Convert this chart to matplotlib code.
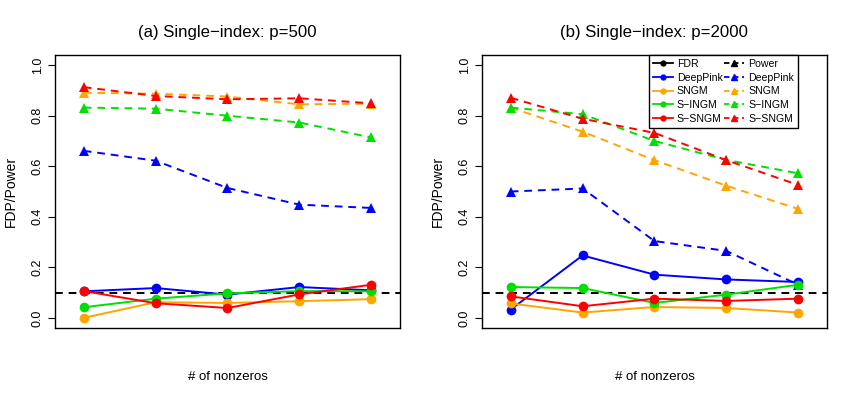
import matplotlib
matplotlib.use("Agg")
import matplotlib.pyplot as plt
from matplotlib.lines import Line2D

plt.rcParams['font.family'] = ['Liberation Sans', 'DejaVu Sans']

x = [1, 2, 3, 4, 5]
methods = ["DeepPink", "SNGM", "S−INGM", "S−SNGM"]
colors = ["#0000FF", "#FFA500", "#00E000", "#FF0000"]

# Panel (a) p=500
fdr_a = {
    "DeepPink": [0.105, 0.118, 0.092, 0.122, 0.109],
    "SNGM":     [0.000, 0.062, 0.059, 0.066, 0.074],
    "S−INGM":   [0.042, 0.076, 0.097, 0.106, 0.105],
    "S−SNGM":   [0.106, 0.058, 0.039, 0.093, 0.131],
}
power_a = {
    "DeepPink": [0.661, 0.622, 0.514, 0.448, 0.435],
    "SNGM":     [0.891, 0.887, 0.876, 0.845, 0.848],
    "S−INGM":   [0.832, 0.828, 0.800, 0.773, 0.714],
    "S−SNGM":   [0.913, 0.878, 0.865, 0.869, 0.849],
}
# Panel (b) p=2000
fdr_b = {
    "DeepPink": [0.033, 0.247, 0.171, 0.152, 0.142],
    "SNGM":     [0.057, 0.021, 0.043, 0.039, 0.021],
    "S−INGM":   [0.122, 0.118, 0.059, 0.092, 0.131],
    "S−SNGM":   [0.085, 0.046, 0.076, 0.067, 0.076],
}
power_b = {
    "DeepPink": [0.500, 0.512, 0.304, 0.265, 0.131],
    "SNGM":     [0.832, 0.737, 0.624, 0.523, 0.431],
    "S−INGM":   [0.832, 0.806, 0.700, 0.625, 0.572],
    "S−SNGM":   [0.871, 0.788, 0.732, 0.624, 0.526],
}
titles = ["(a) Single−index: p=500", "(b) Single−index: p=2000"]
yticks = [0.0, 0.2, 0.4, 0.6, 0.8, 1.0]
ytick_labels = ["0.0", "0.2", "0.4", "0.6", "0.8", "1.0"]
target = 0.1

fig = plt.figure(figsize=(8.55, 3.99), dpi=100)
ax1 = fig.add_axes([0.0643, 0.178, 0.4035, 0.684])
ax2 = fig.add_axes([0.5637, 0.178, 0.4035, 0.684])

for ax, fdr, power, title in [(ax1, fdr_a, power_a, titles[0]), (ax2, fdr_b, power_b, titles[1])]:
    ax.axhline(target, color="black", linestyle=(0, (4, 3)), linewidth=1.4, zorder=1)
    for m, c in zip(methods, colors):
        ax.plot(x, power[m], color=c, linestyle=(0, (4, 3)), linewidth=1.4,
                marker="^", markersize=7.5, markeredgewidth=0, zorder=2)
    for m, c in zip(methods, colors):
        ax.plot(x, fdr[m], color=c, linestyle="-", linewidth=1.4,
                marker="o", markersize=7, markeredgewidth=0, zorder=3)
    ax.set_xlim(0.6, 5.4)
    ax.set_ylim(-0.04, 1.04)
    ax.set_xticks([])
    ax.set_yticks(yticks)
    ax.set_yticklabels(ytick_labels, rotation=90, va="center", fontsize=9)
    ax.tick_params(axis="y", direction="out", length=5, width=0.8, pad=3)
    for s in ax.spines.values():
        s.set_linewidth(1.0)
        s.set_color("black")
    ax.set_title(title, fontsize=12.1, pad=13)
    ax.set_xlabel("# of nonzeros", fontsize=9.5, labelpad=31)
    ax.set_ylabel("FDP/Power", fontsize=10, labelpad=10)

handles = [Line2D([], [], color="black", linestyle="-", marker="o", markersize=3.5, linewidth=1.3)]
labels = ["FDR"]
for m, c in zip(methods, colors):
    handles.append(Line2D([], [], color=c, linestyle="-", marker="o", markersize=3.5, linewidth=1.3))
    labels.append(m)
handles.append(Line2D([], [], color="black", linestyle=(0, (3, 2)), marker="^", markersize=4.5, linewidth=1.3))
labels.append("Power")
for m, c in zip(methods, colors):
    handles.append(Line2D([], [], color=c, linestyle=(0, (3, 2)), marker="^", markersize=4.5, linewidth=1.3))
    labels.append(m)

leg = ax2.legend(handles, labels, ncol=2, loc="upper right", bbox_to_anchor=(0.915, 1.0),
                 fontsize=7.6, frameon=True, fancybox=False, framealpha=1, edgecolor="black",
                 handlelength=1.9, handletextpad=0.4, columnspacing=0.1,
                 labelspacing=0.36, borderpad=0.35, borderaxespad=0)
leg.get_frame().set_linewidth(1.0)

fig.savefig("out.png", dpi=100)
